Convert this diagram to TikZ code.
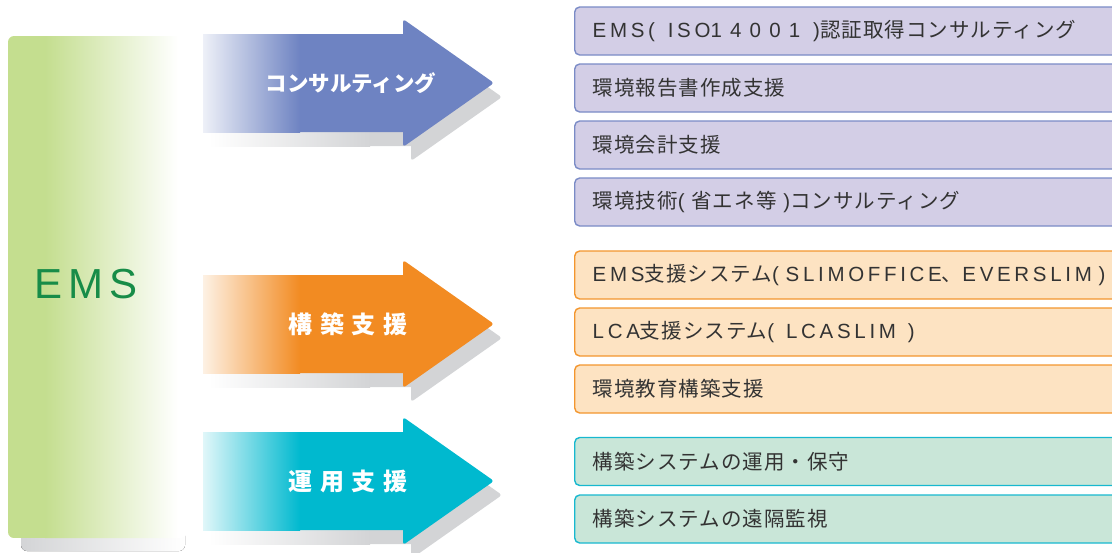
\documentclass[tikz,border=0pt]{standalone}
\usepackage{fontspec}
\setmainfont{Noto Sans CJK JP}
\newfontfamily\emsfont[LetterSpace=14]{Liberation Sans}
\newfontfamily\boxfont[LetterSpace=5]{Noto Sans CJK JP}
\newfontfamily\latinfont[LetterSpace=18]{Liberation Sans}
\newfontfamily\digitfont[LetterSpace=40]{Liberation Sans}
\newfontfamily\widefont[LetterSpace=33]{Noto Sans CJK JP}
\newcommand{\latpart}[1]{{\latinfont #1}}
\newcommand{\digpart}[1]{{\digitfont #1}}
\usepackage{xcolor}
\usetikzlibrary{positioning,calc}

\definecolor{emsgreen}{HTML}{C4DE8F}
\definecolor{emstext}{HTML}{178C48}
\definecolor{shadowgray}{HTML}{D3D4D6}
\definecolor{consblue}{HTML}{6E83C2}
\definecolor{buildorange}{HTML}{F28B22}
\definecolor{opcyan}{HTML}{00B9CF}
\definecolor{consfill}{HTML}{D3CEE6}
\definecolor{consline}{HTML}{7A8BC6}
\definecolor{buildfill}{HTML}{FDE3C2}
\definecolor{buildline}{HTML}{F3962E}
\definecolor{opfill}{HTML}{C9E6D8}
\definecolor{opline}{HTML}{17B8CF}
\definecolor{boxtext}{HTML}{333333}

\newcommand{\arrowpath}[1]{(203,#1-49) -- (403,#1-49) [rounded corners=3] -- (403,#1-64) -- (494,#1) -- (403,#1+64) [sharp corners] -- (403,#1+49) -- (203,#1+49) -- cycle}

\tikzset{listbox/.style={rectangle,rounded corners=5,line width=1.4,minimum height=48,text width=524,inner xsep=18,inner ysep=0,align=left,anchor=west,text=boxtext,font=\boxfont\fontsize{20.5}{20.5}\selectfont}}
\tikzset{arrowlabel/.style={text=white,font=\bfseries\fontsize{21.5}{21.5}\selectfont}}

\begin{document}
\begin{tikzpicture}[x=1pt,y=-1pt]
 \useasboundingbox (0,0) rectangle (1112,552);

 %EMS column
 \fill[left color=shadowgray,right color=white,rounded corners=6] (21,49) rectangle (185,551);
 \begin{scope}
  \clip[rounded corners=6] (8,36) rectangle (187,538);
  \fill[emsgreen] (8,36) rectangle (45,538);
  \fill[left color=emsgreen,right color=white] (45,36) rectangle (178,538);
  \fill[white] (178,36) rectangle (187,538);
 \end{scope}
 \node[text=emstext,font=\emsfont\fontsize{42}{42}\selectfont] (ems) at (86,284) {EMS};

 %arrows
 \foreach \ay/\col/\name/\lx/\label in {83/consblue/cons/351/{コンサルティング}, 324/buildorange/build/348/{\widefont\fontsize{24}{24}\selectfont 構築支援}, 481/opcyan/op/348/{\widefont\fontsize{24}{24}\selectfont 運用支援}} {
  \begin{scope}[shift={(8,14)}]
   \fill[shadowgray] \arrowpath{\ay};
  \end{scope}
  \fill[left color=white,right color=shadowgray] (209,\ay+49) rectangle (370,\ay+63);
  \fill[\col] \arrowpath{\ay};
  \fill[left color=\col!12,right color=\col] (203,\ay-49) rectangle (300,\ay+49);
  \node[arrowlabel] (\name) at (\lx,\ay) {\label};
 }

 %consulting list
 \foreach \y/\name/\label in {31/c1/{\latpart{EMS(\hspace{6pt} ISO}\digpart{14001}\latpart{\hspace{6pt} )}認証取得コンサルティング}, 88/c2/{環境報告書作成支援}, 145/c3/{環境会計支援}, 202/c4/{環境技術\latpart{( }省エネ等\latpart{ )}コンサルティング}}
   \node[listbox,draw=consline,fill=consfill] (\name) at (574,\y) {\label};

 %build list
 \foreach \y/\name/\label in {275/b1/{\latpart{EMS}支援システム\latpart{( SLIMOFFICE}、\latpart{EVERSLIM )}}, 332/b2/{\latpart{LCA}支援システム\latpart{(\hspace{5pt} LCASLIM\hspace{5pt} )}}, 389/b3/{環境教育構築支援}}
   \node[listbox,draw=buildline,fill=buildfill] (\name) at (574,\y) {\label};

 %operation list
 \foreach \y/\name/\label in {461.5/o1/{構築システムの運用・保守}, 519/o2/{構築システムの遠隔監視}}
   \node[listbox,draw=opline,fill=opfill] (\name) at (574,\y) {\label};

\end{tikzpicture}
\end{document}
